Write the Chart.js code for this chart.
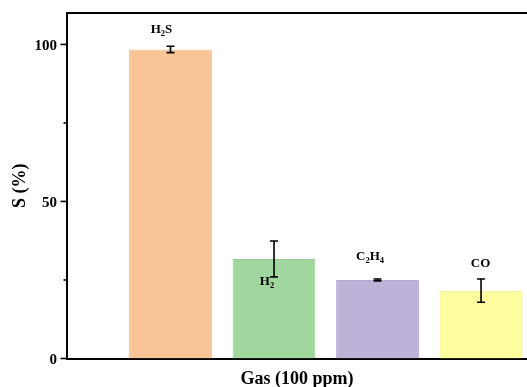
<!DOCTYPE html>
<html>
<head>
<meta charset="utf-8">
<script src="https://cdn.jsdelivr.net/npm/chart.js@4.4.1/dist/chart.umd.min.js"></script>
<style>
  html, body { margin: 0; padding: 0; background: #fff; overflow: hidden; }
  #wrap { width: 527px; height: 387px; position: relative; }
</style>
</head>
<body>
<div id="wrap"><canvas id="chart"></canvas></div>
<script>
// Gas selectivity at 100 ppm
const gases = ['H2S', 'H2', 'C2H4', 'CO'];
const positions = [1, 2, 3, 4];
const selectivity = [98.4, 31.7, 25.0, 21.6];
const errors = [1.0, 5.7, 0.3, 3.7];
const yMajorTicks = [0, 50, 100];
const yMinorTicks = [25, 75];

const fillColors = ['#F9C598', '#A1D69F', '#BFB2D8', '#FEFE9E'];
const edgeColors = ['#EFBD92', '#98CC96', '#B5A9CE', '#EDEA95'];
// label placement relative to each bar's centre / top (px)
const labelOffsets = [
  { dx: -9, dy: -16.5 },
  { dx: -7, dy: 26 },
  { dx: -7.5, dy: -20 },
  { dx: -0.5, dy: -23.5 }
];

const FAMILY = '"Liberation Serif", "Times New Roman", serif';

// split a formula so that digits become subscripts
function formulaParts(name) {
  return name.split(/(\d+)/).filter(s => s.length).map(s => ({ text: s, sub: /^\d+$/.test(s) }));
}

const decorations = {
  id: 'decorations',
  afterDatasetsDraw(chart) {
    const { ctx } = chart;
    const xs = chart.scales.x, ys = chart.scales.y;
    ctx.save();
    // error bars
    ctx.strokeStyle = '#000';
    ctx.lineWidth = 1.6;
    positions.forEach((p, i) => {
      const x = xs.getPixelForValue(p);
      const yt = ys.getPixelForValue(selectivity[i] + errors[i]);
      const yb = ys.getPixelForValue(selectivity[i] - errors[i]);
      ctx.beginPath();
      ctx.moveTo(x, yt); ctx.lineTo(x, yb);
      ctx.moveTo(x - 4, yt); ctx.lineTo(x + 4, yt);
      ctx.moveTo(x - 4, yb); ctx.lineTo(x + 4, yb);
      ctx.stroke();
    });
    // formula labels
    ctx.fillStyle = '#000';
    ctx.textBaseline = 'alphabetic';
    const mainFont = 'bold 13px ' + FAMILY;
    const subFont = 'bold 8.5px ' + FAMILY;
    gases.forEach((g, i) => {
      const parts = formulaParts(g);
      let total = 0;
      parts.forEach(pt => { ctx.font = pt.sub ? subFont : mainFont; pt.w = ctx.measureText(pt.text).width; total += pt.w; });
      const cx = xs.getPixelForValue(positions[i]) + labelOffsets[i].dx;
      const base = ys.getPixelForValue(selectivity[i]) + labelOffsets[i].dy;
      let x = cx - total / 2;
      parts.forEach(pt => {
        ctx.font = pt.sub ? subFont : mainFont;
        ctx.fillText(pt.text, x, pt.sub ? base + 3 : base);
        x += pt.w;
      });
    });
    ctx.restore();
  },
  afterDraw(chart) {
    const { ctx, chartArea } = chart;
    const ys = chart.scales.y;
    ctx.save();
    ctx.strokeStyle = '#000';
    // top frame line
    ctx.lineWidth = 2;
    ctx.beginPath();
    ctx.moveTo(chartArea.left - 1, chartArea.top);
    ctx.lineTo(chartArea.right, chartArea.top);
    ctx.stroke();
    // y tick marks
    ctx.lineWidth = 1.6;
    yMajorTicks.forEach(v => {
      const y = ys.getPixelForValue(v);
      ctx.beginPath(); ctx.moveTo(chartArea.left - 6.5, y); ctx.lineTo(chartArea.left, y); ctx.stroke();
    });
    yMinorTicks.forEach(v => {
      const y = ys.getPixelForValue(v);
      ctx.beginPath(); ctx.moveTo(chartArea.left - 3.5, y); ctx.lineTo(chartArea.left, y); ctx.stroke();
    });
    ctx.restore();
  }
};

new Chart(document.getElementById('chart'), {
  type: 'bar',
  data: {
    datasets: [{
      data: positions.map((x, i) => ({ x, y: selectivity[i] })),
      backgroundColor: fillColors,
      borderColor: edgeColors,
      borderWidth: 1,
      categoryPercentage: 1,
      barPercentage: 0.8
    }]
  },
  options: {
    responsive: true,
    maintainAspectRatio: false,
    animation: false,
    devicePixelRatio: 1,
    layout: { padding: { top: 13, right: 0, left: 0, bottom: 0 } },
    plugins: { legend: { display: false }, tooltip: { enabled: false } },
    scales: {
      x: {
        type: 'linear',
        min: 0,
        max: 4.444,
        offset: false,
        afterBuildTicks(s) { s.ticks = positions.map(v => ({ value: v })); },
        grid: { display: false, drawTicks: false },
        ticks: { display: false },
        border: { color: '#000', width: 2 },
        title: {
          display: true,
          text: 'Gas (100 ppm)',
          color: '#000',
          font: { family: FAMILY, size: 18, weight: 'bold' },
          padding: { top: 0, bottom: -3 }
        },
        afterFit(s) { s.height = 28.5; s.paddingLeft = 0; s.paddingRight = 0; }
      },
      y: {
        min: 0,
        max: 110,
        afterBuildTicks(s) { s.ticks = yMajorTicks.map(v => ({ value: v })); },
        grid: { display: false, drawTicks: false },
        ticks: {
          padding: 10,
          labelOffset: 1.5,
          color: '#000',
          font: { family: FAMILY, size: 15, weight: 'bold' }
        },
        border: { color: '#000', width: 2 },
        title: {
          display: true,
          text: 'S (%)',
          color: '#000',
          font: { family: FAMILY, size: 18, weight: 'bold' },
          padding: { top: 10, bottom: 0 }
        },
        afterFit(s) { s.width = 67; s.paddingTop = 0; s.paddingBottom = 0; }
      }
    }
  },
  plugins: [decorations]
});
</script>
</body>
</html>
